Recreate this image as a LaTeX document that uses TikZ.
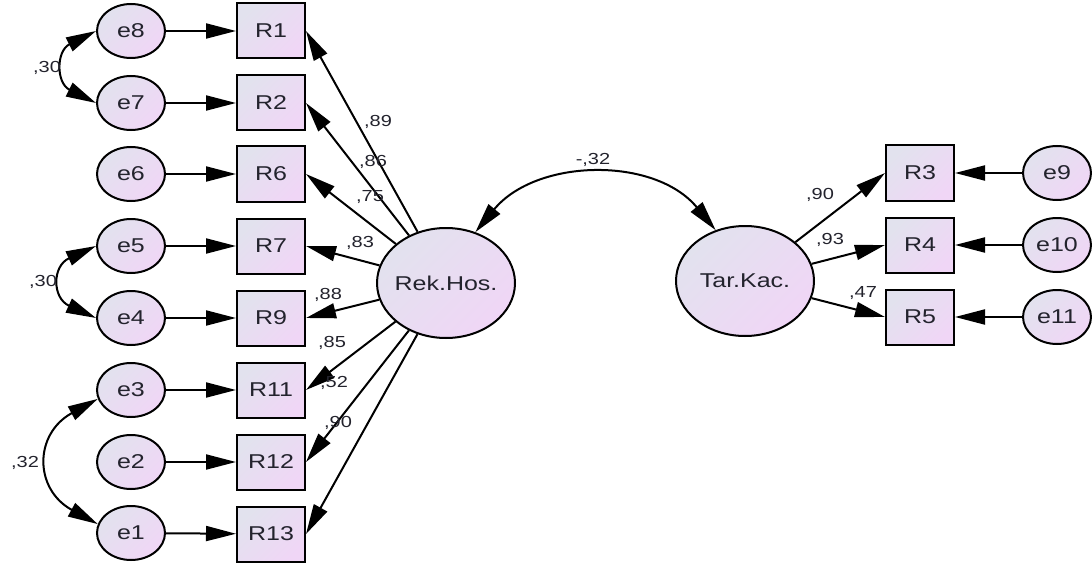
\documentclass[tikz,border=0pt]{standalone}
\usepackage{fontspec}
\setmainfont{Liberation Sans}
\usetikzlibrary{shapes.geometric,arrows.meta}
\newcommand{\stx}[1]{\makebox[0pt]{\scalebox{1.25}[1]{#1}}}
\definecolor{fillA}{RGB}{226,226,238}
\definecolor{fillB}{RGB}{240,214,246}
\definecolor{txt}{RGB}{35,35,45}
\begin{document}
\begin{tikzpicture}[x=0.5pt,y=-0.5pt,
  shadefill/.style={top color=fillA, bottom color=fillB, shading angle=45},
  errnode/.style={ellipse, draw, line width=1pt, minimum width=34pt, minimum height=27pt, inner sep=0pt, shadefill, text=txt, font=\fontsize{10}{12}\selectfont},
  obsnode/.style={rectangle, draw, line width=1pt, minimum width=34pt, minimum height=27.5pt, inner sep=0pt, shadefill, text=txt, font=\fontsize{10}{12}\selectfont},
  latnode/.style={ellipse, draw, line width=1pt, minimum width=69pt, minimum height=55pt, inner sep=0pt, shadefill, text=txt, font=\fontsize{10}{12}\selectfont},
  regarrow/.style={line width=1pt, -{Triangle[length=15pt,width=7.5pt]}},
  covarrow/.style={line width=1pt, {Triangle[length=15pt,width=7.5pt]}-{Triangle[length=15pt,width=7.5pt]}},
  coef/.style={font=\fontsize{8}{9.6}\selectfont, text=txt, inner sep=0pt}
]
\useasboundingbox (0,0) rectangle (1092,567);

% error terms, left
\node[errnode] (e8) at (131,31) {\stx{e8}};
\node[errnode] (e7) at (131,103) {\stx{e7}};
\node[errnode] (e6) at (131,174) {\stx{e6}};
\node[errnode] (e5) at (131,246) {\stx{e5}};
\node[errnode] (e4) at (131,318) {\stx{e4}};
\node[errnode] (e3) at (131,390) {\stx{e3}};
\node[errnode] (e2) at (131,462) {\stx{e2}};
\node[errnode] (e1) at (131,533) {\stx{e1}};

% observed, left
\node[obsnode] (R1) at (271,31) {\stx{R1}};
\node[obsnode] (R2) at (271,103) {\stx{R2}};
\node[obsnode] (R6) at (271,174) {\stx{R6}};
\node[obsnode] (R7) at (271,246) {\stx{R7}};
\node[obsnode] (R9) at (271,318) {\stx{R9}};
\node[obsnode] (R11) at (271,390) {\stx{R11}};
\node[obsnode] (R12) at (271,462) {\stx{R12}};
\node[obsnode] (R13) at (271,534) {\stx{R13}};

% latent
\node[latnode] (RH) at (446,283) {\stx{Rek.Hos.}};
\node[latnode] (TK) at (745,281) {\stx{Tar.Kac.}};

% right side
\node[obsnode] (R3) at (920,173) {\stx{R3}};
\node[obsnode] (R4) at (920,245) {\stx{R4}};
\node[obsnode] (R5) at (920,317) {\stx{R5}};
\node[errnode] (e9) at (1057,173) {\stx{e9}};
\node[errnode] (e10) at (1057,245) {\stx{e10}};
\node[errnode] (e11) at (1057,317) {\stx{e11}};

% error -> observed
\foreach \a/\b in {e8/R1,e7/R2,e6/R6,e5/R7,e4/R9,e3/R11,e2/R12,e1/R13,e9/R3,e10/R4,e11/R5}
  \draw[regarrow] (\a) -- (\b);

% latent -> observed
\foreach \b in {R1,R2,R6,R7,R9,R11,R12,R13}
  \draw[regarrow] (RH) -- (\b.east);
\foreach \b in {R3,R4,R5}
  \draw[regarrow] (TK) -- (\b.west);

% covariances
\draw[covarrow] (e8.west) .. controls +(-40,20) and +(-40,-20) .. (e7.west);
\draw[covarrow] (e5.west) .. controls +(-44,20) and +(-44,-20) .. (e4.west);
\draw[covarrow] (e3.195) .. controls +(-64,35) and +(-64,-35) .. (e1.165);
\draw[covarrow] (RH.60) .. controls +(61,-74) and +(-61,-74) .. (TK.120);

% coefficients
\node[coef] (c1) at (378,122) {\stx{,89}};
\node[coef] (c2) at (373,162) {\stx{,86}};
\node[coef] (c3) at (370,197) {\stx{,75}};
\node[coef] (c4) at (360,243) {\stx{,83}};
\node[coef] (c5) at (328,295) {\stx{,88}};
\node[coef] (c6) at (332,343) {\stx{,85}};
\node[coef] (c7) at (334,383) {\stx{,52}};
\node[coef] (c8) at (338,423) {\stx{,90}};
\node[coef] (c9) at (593,160) {\stx{-,32}};
\node[coef] (c10) at (820,195) {\stx{,90}};
\node[coef] (c11) at (830,240) {\stx{,93}};
\node[coef] (c12) at (863,293) {\stx{,47}};
\node[coef] (c13) at (47,68) {\stx{,30}};
\node[coef] (c14) at (43,282) {\stx{,30}};
\node[coef] (c15) at (25,463) {\stx{,32}};
\end{tikzpicture}
\end{document}
